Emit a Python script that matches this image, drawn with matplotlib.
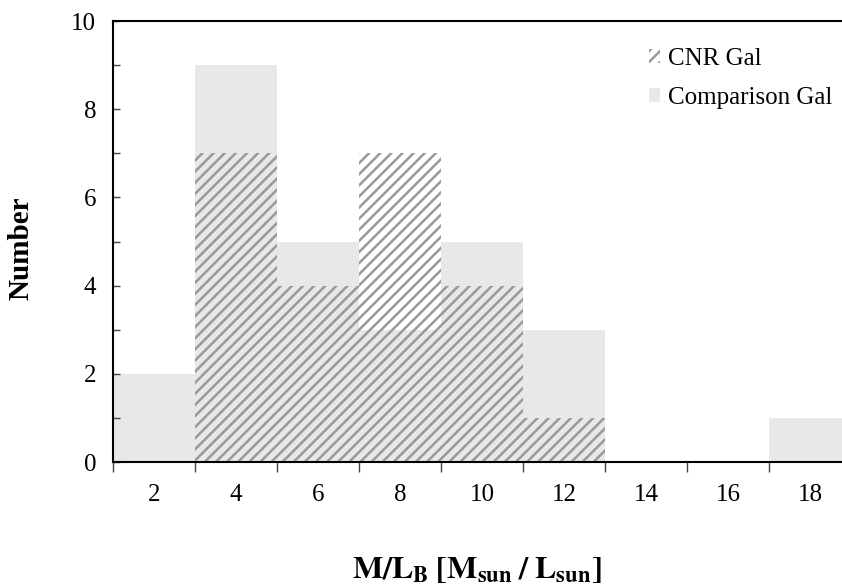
import numpy as np
import matplotlib
matplotlib.use("agg")
import matplotlib.pyplot as plt
from matplotlib.ticker import MultipleLocator, FixedLocator

plt.rcParams['font.family'] = ['Liberation Serif', 'DejaVu Serif']
plt.rcParams['mathtext.fontset'] = 'stix'
plt.rcParams['hatch.linewidth'] = 1.8

# Histogram bins (centres) and counts
bin_centres = [2, 4, 6, 8, 10, 12, 14, 16, 18]
comparison_counts = [2, 9, 5, 3, 5, 3, 0, 0, 1]
cnr_counts = [0, 7, 4, 7, 4, 1, 0, 0, 0]
bin_width = 2

fig = plt.figure(figsize=(8.42, 5.87), dpi=100)
ax = fig.add_axes([0.1342, 0.2129, 0.8765, 0.7513])

# Comparison galaxies as solid light bars, CNR galaxies hatched on top
ax.bar(bin_centres, comparison_counts, width=bin_width, color='#e8e8e8',
       linewidth=0, label='Comparison Gal', zorder=1)
ax.bar(bin_centres, cnr_counts, width=bin_width, facecolor='none',
       edgecolor='#999999', hatch='///', linewidth=0, label='CNR Gal', zorder=2)

ax.set_xlim(1, 19)
ax.set_ylim(0, 10)

# Axis formatting
ax.xaxis.set_major_locator(FixedLocator(bin_centres))
ax.xaxis.set_minor_locator(FixedLocator(np.arange(1, 20, 2)))
ax.tick_params(axis='x', which='major', length=0, pad=16, labelsize=18)
ax.tick_params(axis='x', which='minor', length=7, width=1, color='#444444', direction='out')
ax.yaxis.set_major_locator(MultipleLocator(2))
ax.yaxis.set_minor_locator(MultipleLocator(1))
ax.tick_params(axis='y', which='both', direction='in', length=5, width=1,
               color='#444444', pad=12, labelsize=18)

# Spine formatting
for spine in ['left', 'bottom', 'top']:
    ax.spines[spine].set_linewidth(1.5)
ax.spines['right'].set_visible(False)

ax.set_ylabel('Number', fontsize=21, fontweight='bold')
ax.yaxis.set_label_coords(-0.106, 0.485)
ax.set_xlabel(r'$\mathbf{M/L_B\;[M_{sun}\;/\;L_{sun}]}$', fontsize=23)
ax.xaxis.set_label_coords(0.493, -0.21)

handles, labels = ax.get_legend_handles_labels()
ax.legend(handles[::-1], labels[::-1], loc='upper right', bbox_to_anchor=(1.005, 0.99),
          frameon=False, fontsize=18, handlelength=0.45, handleheight=0.45,
          handletextpad=0.3, labelspacing=0.68)

fig.savefig('out.png', dpi=100)
